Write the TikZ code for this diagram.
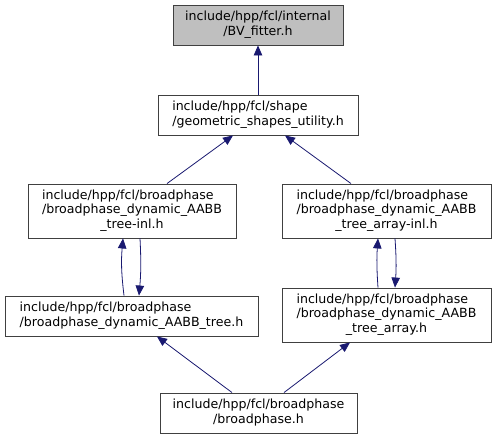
\documentclass[tikz,border=0pt]{standalone}
\usepackage{fontspec}
\setmainfont{DejaVu Sans}
\usetikzlibrary{arrows.meta}
\definecolor{edgec}{HTML}{191970}
\definecolor{boxc}{HTML}{404040}
\definecolor{fillc}{HTML}{BFBFBF}
\newcommand{\lbl}[1]{\fontsize{12.6}{14.5}\selectfont\begin{tabular}{@{}l@{}}#1\end{tabular}}
\newcommand{\lastc}[1]{\multicolumn{1}{@{}c@{}}{#1}}
\tikzset{
  file/.style={draw=boxc, line width=0.9pt, fill=white, inner sep=0pt, anchor=center},
  edge/.style={draw=edgec, line width=0.8pt, -{Triangle[length=10pt,width=8.5pt]}},
}
\begin{document}
\begin{tikzpicture}[x=1pt,y=-1pt]
\useasboundingbox (0,0) rectangle (496,439);
\node[file, fill=fillc, minimum width=170pt, minimum height=40pt] (bv) at (258,25)
  {\lbl{include/hpp/fcl/internal\\\lastc{/BV\_fitter.h}}};
\node[file, minimum width=200pt, minimum height=40pt] (geo) at (258,115)
  {\lbl{include/hpp/fcl/shape\\/geometric\_shapes\_utility.h}};
\node[file, minimum width=208pt, minimum height=54pt] (treeinl) at (132,211)
  {\lbl{include/hpp/fcl/broadphase\\/broadphase\_dynamic\_AABB\\\lastc{\_tree-inl.h}}};
\node[file, minimum width=209pt, minimum height=54pt] (arrinl) at (386.5,211)
  {\lbl{include/hpp/fcl/broadphase\\/broadphase\_dynamic\_AABB\\\lastc{\_tree\_array-inl.h}}};
\node[file, minimum width=253pt, minimum height=40pt] (tree) at (131.5,316)
  {\lbl{include/hpp/fcl/broadphase\\/broadphase\_dynamic\_AABB\_tree.h}};
\node[file, minimum width=209pt, minimum height=54pt] (arr) at (386.5,315)
  {\lbl{include/hpp/fcl/broadphase\\/broadphase\_dynamic\_AABB\\\lastc{\_tree\_array.h}}};
\node[file, minimum width=197pt, minimum height=40pt] (bp) at (258.5,413)
  {\lbl{include/hpp/fcl/broadphase\\\lastc{/broadphase.h}}};

\draw[edge] (geo.north) -- (bv.south);
\draw[edge] ([xshift=35pt]treeinl.north) -- ([xshift=-25pt]geo.south);
\draw[edge] ([xshift=-35.5pt]arrinl.north) -- ([xshift=27pt]geo.south);
\draw[edge] ([xshift=-7.5pt]tree.north) to[bend left=6] ([xshift=-9pt]treeinl.south);
\draw[edge] ([xshift=8pt]treeinl.south) to[bend left=4] ([xshift=7.5pt]tree.north);
\draw[edge] ([xshift=-8.5pt]arr.north) to[bend left=4] ([xshift=-8.5pt]arrinl.south);
\draw[edge] ([xshift=8.5pt]arrinl.south) to[bend left=4] ([xshift=8.5pt]arr.north);
\draw[edge] ([xshift=-26.5pt]bp.north) -- ([xshift=25.5pt]tree.south);
\draw[edge] ([xshift=25.5pt]bp.north) -- ([xshift=-36.5pt]arr.south);
\end{tikzpicture}
\end{document}
